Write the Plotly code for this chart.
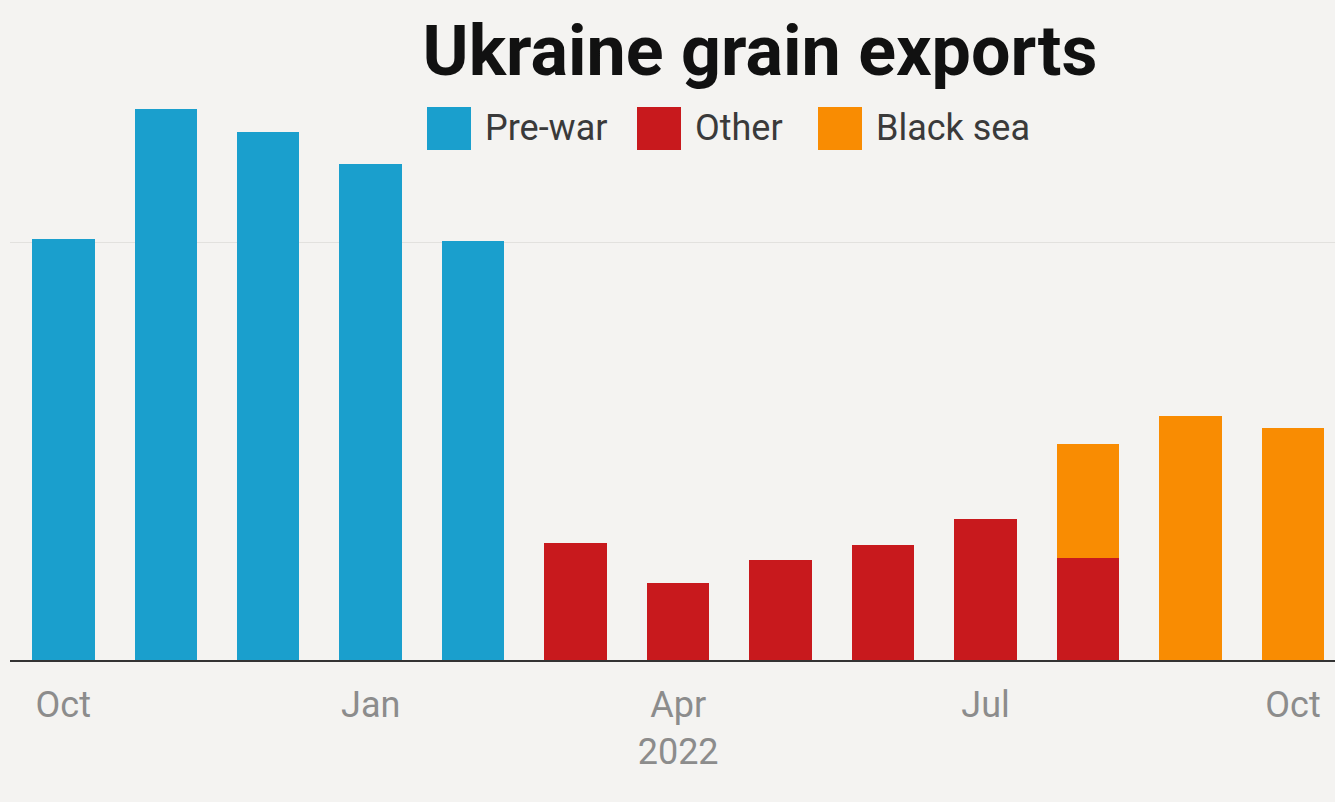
import plotly.graph_objects as go

months = ["Oct 2021", "Nov 2021", "Dec 2021", "Jan 2022", "Feb 2022", "Mar 2022",
          "Apr 2022", "May 2022", "Jun 2022", "Jul 2022", "Aug 2022", "Sep 2022", "Oct 2022"]
pre_war = [5.04, 6.59, 6.32, 5.93, 5.01, None, None, None, None, None, None, None, None]
other = [None, None, None, None, None, 1.40, 0.92, 1.20, 1.38, 1.69, 1.22, None, None]
black_sea = [None, None, None, None, None, None, None, None, None, None, 1.36, 2.92, 2.78]

tick_vals = ["Oct 2021", "Jan 2022", "Apr 2022", "Jul 2022", "Oct 2022"]
tick_text = ["Oct", "Jan", "Apr<br>2022", "Jul", "Oct"]

series_names = ["Pre-war", "Other", "Black sea"]
colors = ["#1a9fcd", "#c8191d", "#f98c02"]
BG = "#f4f3f1"

fig = go.Figure()
for name, vals, col in zip(series_names, [pre_war, other, black_sea], colors):
    fig.add_trace(go.Bar(x=months, y=vals, name=name, marker_color=col,
                         marker_line_width=0, showlegend=False))

# manual legend with large square swatches
legend_x = [427, 637, 818]
W, H = 1335, 802
ml, mr, mt, mb = 10, 0, 75, 142
for lx, name, col in zip(legend_x, series_names, colors):
    fig.add_shape(type="rect", xref="paper", yref="paper",
                  x0=(lx - ml) / (W - ml - mr), x1=(lx + 44 - ml) / (W - ml - mr),
                  y0=(H - mb - 150) / (H - mt - mb), y1=(H - mb - 107) / (H - mt - mb),
                  fillcolor=col, line_width=0, layer="above")
    fig.add_annotation(xref="paper", yref="paper",
                       x=(lx + 56 - ml) / (W - ml - mr), y=(H - mb - 128) / (H - mt - mb),
                       text=name, showarrow=False, xanchor="left", yanchor="middle",
                       font=dict(family="Roboto", size=36, color="#3a3a3a"))

fig.update_layout(
    width=W, height=H,
    paper_bgcolor=BG, plot_bgcolor=BG,
    barmode="stack", bargap=0.39,
    margin=dict(l=ml, r=mr, t=mt, b=mb),
    title=dict(text="<b>Ukraine grain exports</b>", x=760 / W, xanchor="center",
               y=1 - 50 / H, yanchor="middle", yref="container",
               font=dict(family="Roboto", size=70, color="#111111")),
    xaxis=dict(type="category", categoryorder="array", categoryarray=months,
               range=[-0.52, 12.41], tickmode="array", tickvals=tick_vals, ticktext=tick_text,
               showline=True, linecolor="#333333", linewidth=2, showgrid=False,
               ticks="outside", ticklen=12, tickcolor=BG,
               tickfont=dict(family="Roboto", size=36, color="#8c8c8c")),
    yaxis=dict(range=[0, 7], tickvals=[0, 5], showticklabels=False, showgrid=True,
               gridcolor="#e2e1de", gridwidth=1, zeroline=False),
)

fig.write_html("out.html")
